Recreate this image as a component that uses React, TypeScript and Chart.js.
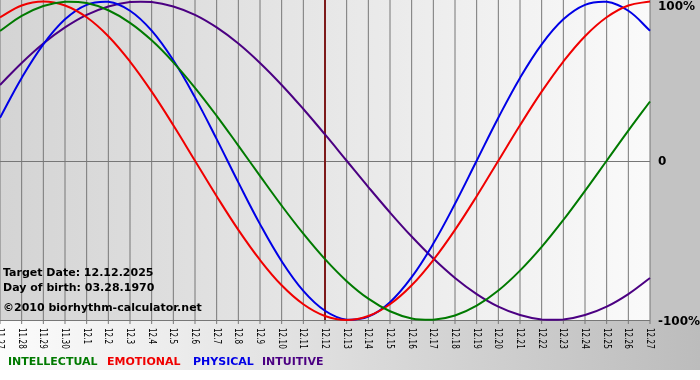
import React, { useEffect, useRef } from "react";
import { Chart, registerables } from "chart.js";

Chart.register(...registerables);

const days = [
  "11.27", "11.28", "11.29", "11.30", "12.1", "12.2", "12.3", "12.4", "12.5", "12.6",
  "12.7", "12.8", "12.9", "12.10", "12.11", "12.12", "12.13", "12.14", "12.15", "12.16",
  "12.17", "12.18", "12.19", "12.20", "12.21", "12.22", "12.23", "12.24", "12.25", "12.26", "12.27",
];

const intellectual = [
  0.815, 0.91, 0.972, 0.999, 0.99, 0.945, 0.866, 0.756, 0.618, 0.458, 0.282, 0.095, -0.095,
  -0.282, -0.458, -0.618, -0.756, -0.866, -0.945, -0.99, -0.999, -0.972, -0.91, -0.815, -0.69,
  -0.541, -0.372, -0.189, 0, 0.189, 0.372,
];
const emotional = [
  0.901, 0.975, 1.0, 0.975, 0.901, 0.782, 0.623, 0.434, 0.223, 0, -0.223, -0.434, -0.623,
  -0.782, -0.901, -0.975, -1.0, -0.975, -0.901, -0.782, -0.623, -0.434, -0.223, 0, 0.223,
  0.434, 0.623, 0.782, 0.901, 0.975, 1.0,
];
const physical = [
  0.27, 0.52, 0.731, 0.888, 0.979, 0.998, 0.942, 0.817, 0.631, 0.398, 0.136, -0.136, -0.398,
  -0.631, -0.817, -0.942, -0.998, -0.979, -0.888, -0.731, -0.52, -0.27, 0, 0.27, 0.52, 0.731,
  0.888, 0.979, 0.998, 0.942, 0.817,
];
const intuitive = [
  0.476, 0.614, 0.736, 0.837, 0.916, 0.969, 0.997, 0.997, 0.969, 0.916, 0.837, 0.736, 0.614,
  0.476, 0.325, 0.165, 0, -0.165, -0.325, -0.476, -0.614, -0.736, -0.837, -0.916, -0.969,
  -0.997, -0.997, -0.969, -0.916, -0.837, -0.736,
];

const seriesNames = ["INTELLECTUAL", "EMOTIONAL", "PHYSICAL", "INTUITIVE"];
const seriesColors = ["#007a00", "#f00000", "#0000e6", "#4b0082"];
const targetDay = "12.12";
const yTickValues = [1, 0, -1];
const yTickTexts = ["100%", "0", "-100%"];
const infoLines = ["Target Date: 12.12.2025", "Day of birth: 03.28.1970", "\u00a92010 biorhythm-calculator.net"];

const FONT = "'DejaVu Sans', 'Verdana', sans-serif";

export default function App() {
  const ref = useRef<HTMLCanvasElement>(null);

  useEffect(() => {
    document.body.style.margin = "0";
    const canvas = ref.current;
    if (!canvas) return;

    const decor = {
      id: "bioDecor",
      beforeDraw(chart: any) {
        const { ctx, chartArea: a, width, height } = chart;
        const xs = chart.scales.x;
        const ys = chart.scales.y;
        ctx.save();
        ctx.fillStyle = "#ffffff";
        ctx.fillRect(0, 0, width, height);
        ctx.fillStyle = "#c3c3c3";
        ctx.fillRect(a.right, 0, width - a.right, a.bottom);
        const gb = ctx.createLinearGradient(0, 0, width, 0);
        gb.addColorStop(0, "#fcfcfc");
        gb.addColorStop(1, "#bcbcbc");
        ctx.fillStyle = gb;
        ctx.fillRect(0, a.bottom, width, height - 10 - a.bottom);
        const gp = ctx.createLinearGradient(a.left, 0, a.right, 0);
        gp.addColorStop(0, "#d4d4d4");
        gp.addColorStop(1, "#fafafa");
        ctx.fillStyle = gp;
        ctx.fillRect(a.left, 0, a.right - a.left, a.bottom);
        ctx.strokeStyle = "#777777";
        ctx.lineWidth = 1;
        days.forEach((_, i) => {
          const px = xs.getPixelForValue(i);
          ctx.beginPath();
          ctx.moveTo(px, 0);
          ctx.lineTo(px, a.bottom + 4);
          ctx.stroke();
        });
        [0, -1].forEach((v) => {
          const py = Math.round(ys.getPixelForValue(v)) + 0.5;
          ctx.beginPath();
          ctx.moveTo(a.left, py);
          ctx.lineTo(a.right, py);
          ctx.stroke();
        });
        const tx = xs.getPixelForValue(days.indexOf(targetDay));
        ctx.strokeStyle = "#7d1a1a";
        ctx.lineWidth = 2;
        ctx.beginPath();
        ctx.moveTo(tx, 0);
        ctx.lineTo(tx, a.bottom);
        ctx.stroke();
        ctx.restore();
      },
      afterDraw(chart: any) {
        const { ctx, chartArea: a } = chart;
        const xs = chart.scales.x;
        const ys = chart.scales.y;
        ctx.save();
        ctx.fillStyle = "#000";
        ctx.font = `bold 11px ${FONT}`;
        ctx.textAlign = "left";
        ctx.textBaseline = "alphabetic";
        const baselines = [276, 291, 311];
        infoLines.forEach((t, i) => ctx.fillText(t, 3, baselines[i]));
        ctx.font = `bold 12px ${FONT}`;
        ctx.textBaseline = "middle";
        yTickValues.forEach((v, i) => {
          let py = ys.getPixelForValue(v) + 1.5;
          if (py < 7) py = 7;
          ctx.fillText(yTickTexts[i], a.right + 8, py);
        });
        ctx.font = `11px ${FONT}`;
        days.forEach((d, i) => {
          const px = xs.getPixelForValue(i);
          ctx.save();
          ctx.translate(px, a.bottom + 8);
          ctx.rotate(Math.PI / 2);
          ctx.scale(0.66, 1);
          ctx.textAlign = "left";
          ctx.textBaseline = "middle";
          ctx.fillText(d, 0, 0);
          ctx.restore();
        });
        ctx.font = `bold 11px ${FONT}`;
        ctx.textBaseline = "middle";
        const lx = [8, 107, 193, 262];
        seriesNames.forEach((n, i) => {
          ctx.fillStyle = seriesColors[i];
          ctx.fillText(n, lx[i], 362);
        });
        ctx.restore();
      },
    };

    const mk = (label: string, data: number[], color: string) => ({
      label,
      data,
      borderColor: color,
      backgroundColor: color,
      borderWidth: 2,
      pointRadius: 0,
      tension: 0.4,
      fill: false,
      clip: false as any,
    });

    const chart = new Chart(canvas, {
      type: "line",
      data: {
        labels: days,
        datasets: [
          mk(seriesNames[0], intellectual, seriesColors[0]),
          mk(seriesNames[1], emotional, seriesColors[1]),
          mk(seriesNames[2], physical, seriesColors[2]),
          mk(seriesNames[3], intuitive, seriesColors[3]),
        ],
      },
      options: {
        responsive: false,
        animation: false,
        devicePixelRatio: 1,
        layout: { padding: { left: 0, top: 1.5, right: 50, bottom: 60 } },
        scales: {
          x: { display: false },
          y: { display: false, min: -1, max: 1 },
        },
        plugins: {
          legend: { display: false },
          tooltip: { enabled: false },
        },
      },
      plugins: [decor],
    });
    return () => chart.destroy();
  }, []);

  return (
    <div style={{ position: "absolute", left: 0, top: 0 }}>
      <canvas ref={ref} width={700} height={380} style={{ width: 700, height: 380, display: "block" }} />
    </div>
  );
}
